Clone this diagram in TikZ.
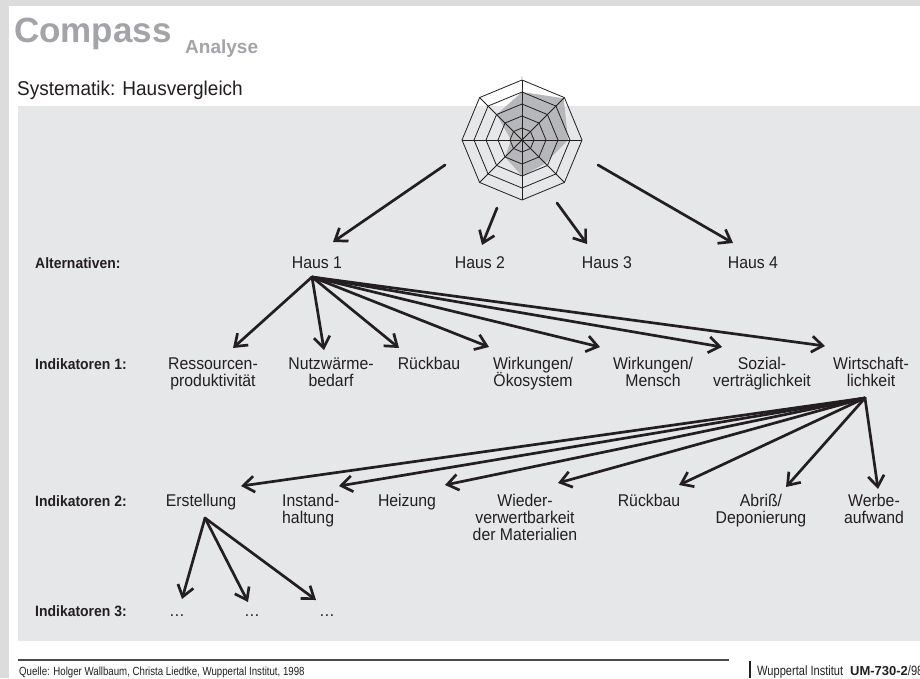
\documentclass[tikz,border=0pt]{standalone}
\usepackage{fontspec}
\setmainfont{Liberation Sans}[FakeStretch=0.93]
\newfontfamily\footfont{Liberation Sans}[FakeStretch=0.82]
\newfontfamily\headfont{Liberation Sans}[FakeStretch=1.0]
\newfontfamily\subfont{Liberation Sans}[FakeStretch=0.95]
\usetikzlibrary{arrows.meta}

% fixed line distance for stacked labels, whatever the accents
\newcommand\labelfont{\fontsize{17}{17}\selectfont\lineskiplimit=-20pt\relax\lineskip=0pt\relax}

\definecolor{framegray}{HTML}{DCDCDC}
\definecolor{panelgray}{HTML}{E6E7E9}
\definecolor{titlegray}{HTML}{A2A4A7}
\definecolor{shadegray}{HTML}{B6B7BA}
\definecolor{inkgray}{HTML}{231F20}

\tikzset{
  lbl/.style={font=\labelfont, text=inkgray, inner sep=0, align=center, anchor=base},
  lblleft/.style={lbl, align=left},
  rowlbl/.style={font=\fontsize{15}{17}\selectfont\bfseries, text=inkgray, inner sep=0, anchor=base west},
  arr/.style={draw=inkgray, line width=2.7pt, line cap=round,
    -{Straight Barb[length=11pt,width=16pt]}},
  web/.style={draw=inkgray, line width=0.8pt, line join=miter},
}

\begin{document}
\begin{tikzpicture}[x=1pt,y=-1pt]
\useasboundingbox (0,0) rectangle (920,678);
\clip (0,0) rectangle (920,678);

% page background, white sheet and grey panel
\fill[framegray] (0,0) rectangle (920,678);
\fill[white] (8.5,5.5) rectangle (920,678);
\fill[panelgray] (17.5,106) rectangle (920,641);

% heading
\node[anchor=base west, inner sep=0, text=titlegray,
  font=\headfont\bfseries\fontsize{35}{35}\selectfont] (title) at (14,42) {Compass};
\node[anchor=base west, inner sep=0, text=titlegray,
  font=\headfont\bfseries\fontsize{19}{19}\selectfont] (subtitle) at (185,53) {Analyse};
\node[anchor=base west, inner sep=0, text=inkgray,
  font=\subfont\fontsize{20}{20}\selectfont] (system) at (17,95) {Systematik: Hausvergleich};

% spider web
\begin{scope}[shift={(522,140)}, yscale=-1]
  \fill[shadegray] (90:48) -- (45:59) -- (0:46) -- (-45:33) -- (-90:36)
    -- (-135:24) -- (180:11) -- (135:36) -- cycle;
  \foreach \r in {12,24,36,48,60}
    \draw[web] (0:\r) -- (45:\r) -- (90:\r) -- (135:\r) -- (180:\r)
      -- (225:\r) -- (270:\r) -- (315:\r) -- cycle;
  \foreach \a in {0,45,...,315}
    \draw[web] (0,0) -- (\a:60);
  \foreach \r/\n in {12/1,24/2,36/3,48/4,60/5}
    \node[font=\fontsize{3.5}{3.5}\selectfont, text=gray, inner sep=0.3pt]
      at (90:\r+2) {\n};
\end{scope}

% start points of the arrows leaving the web
\coordinate (w1) at (445,165);
\coordinate (w2) at (497,208);
\coordinate (w3) at (557,203);
\coordinate (w4) at (598,165);

% row captions
\node[rowlbl] (alt)  at (35,268) {Alternativen:};
\node[rowlbl] (ind1) at (35,369) {Indikatoren 1:};
\node[rowlbl] (ind2) at (35,506) {Indikatoren 2:};
\node[rowlbl] (ind3) at (35,616) {Indikatoren 3:};

% alternatives
\node[lbl] (h1) at (317,268) {Haus 1};
\node[lbl] (h2) at (480,268) {Haus 2};
\node[lbl] (h3) at (607,268) {Haus 3};
\node[lbl] (h4) at (753,268) {Haus 4};

% indicators, first level (base anchor = baseline of the last line)
\node[lbl] (a1) at (213,386) {Ressourcen-\\produktivität};
\node[lbl] (a2) at (331,386) {Nutzwärme-\\bedarf};
\node[lbl] (a3) at (429,369) {Rückbau};
\node[lbl] (a4) at (533,386) {Wirkungen/\\Ökosystem};
\node[lbl] (a5) at (653,386) {Wirkungen/\\Mensch};
\node[lbl] (a6) at (762,386) {Sozial-\\verträglichkeit};
\node[lbl] (a7) at (871,386) {Wirtschaft-\\lichkeit};

% indicators, second level
\node[lbl] (b1) at (201,506) {Erstellung};
\node[lblleft, anchor=base west] (b2) at (282,523) {Instand-\\haltung};
\node[lbl] (b3) at (407,506) {Heizung};
\node[lbl] (b4) at (525,540) {Wieder-\\verwertbarkeit\\der Materialien};
\node[lbl] (b5) at (649,506) {Rückbau};
\node[lbl] (b6) at (761,523) {Abriß/\\Deponierung};
\node[lbl] (b7) at (874,523) {Werbe-\\aufwand};

% indicators, third level
\node[lbl] (c1) at (177,616) {\dots};
\node[lbl] (c2) at (252,616) {\dots};
\node[lbl] (c3) at (327,616) {\dots};

% fan origins and arrow ends
\coordinate (h1o) at (312,277);
\coordinate (a7o) at (865,398);
\coordinate (b1o) at (205,518);

\coordinate (h1t) at (333,242);
\coordinate (h2t) at (482,245);
\coordinate (h3t) at (587,244);
\coordinate (h4t) at (733,243);

\coordinate (a1t) at (233,348);
\coordinate (a2t) at (324,350);
\coordinate (a3t) at (399,348);
\coordinate (a4t) at (489,347);
\coordinate (a5t) at (600,347);
\coordinate (a6t) at (722,347);
\coordinate (a7t) at (825,346);

\coordinate (b1t) at (241,486);
\coordinate (b2t) at (339,486);
\coordinate (b3t) at (445,485);
\coordinate (b4t) at (558,483);
\coordinate (b5t) at (679,485);
\coordinate (b6t) at (786,487);
\coordinate (b7t) at (878,489);

\coordinate (c1t) at (182,599);
\coordinate (c2t) at (248,602);
\coordinate (c3t) at (316,600);

% web -> alternatives
\draw[arr] (w1) -- (h1t);
\draw[arr] (w2) -- (h2t);
\draw[arr] (w3) -- (h3t);
\draw[arr] (w4) -- (h4t);

% Haus 1 -> indicators 1
\foreach \t in {a1t,a2t,a3t,a4t,a5t,a6t,a7t}
  \draw[arr] (h1o) -- (\t);

% Wirtschaftlichkeit -> indicators 2
\foreach \t in {b1t,b2t,b3t,b4t,b5t,b6t,b7t}
  \draw[arr] (a7o) -- (\t);

% Erstellung -> indicators 3
\foreach \t in {c1t,c2t,c3t}
  \draw[arr] (b1o) -- (\t);

% footer
\draw[draw=black!70, line width=1.1pt] (17.5,660) -- (729,660);
\node[anchor=base west, inner sep=0, text=inkgray, font=\footfont\fontsize{11.8}{12}\selectfont]
  (source) at (19,675) {Quelle: Holger Wallbaum, Christa Liedtke, Wuppertal Institut, 1998};
\draw[draw=inkgray, line width=2pt] (750,661) -- (750,678);
\node[anchor=base west, inner sep=0, text=inkgray, font=\footfont\fontsize{13.5}{14}\selectfont]
  (stamp) at (757,675) {Wuppertal Institut\hspace{7pt}{\headfont\bfseries\fontsize{13}{14}\selectfont UM-730-2}/98};
\end{tikzpicture}
\end{document}
